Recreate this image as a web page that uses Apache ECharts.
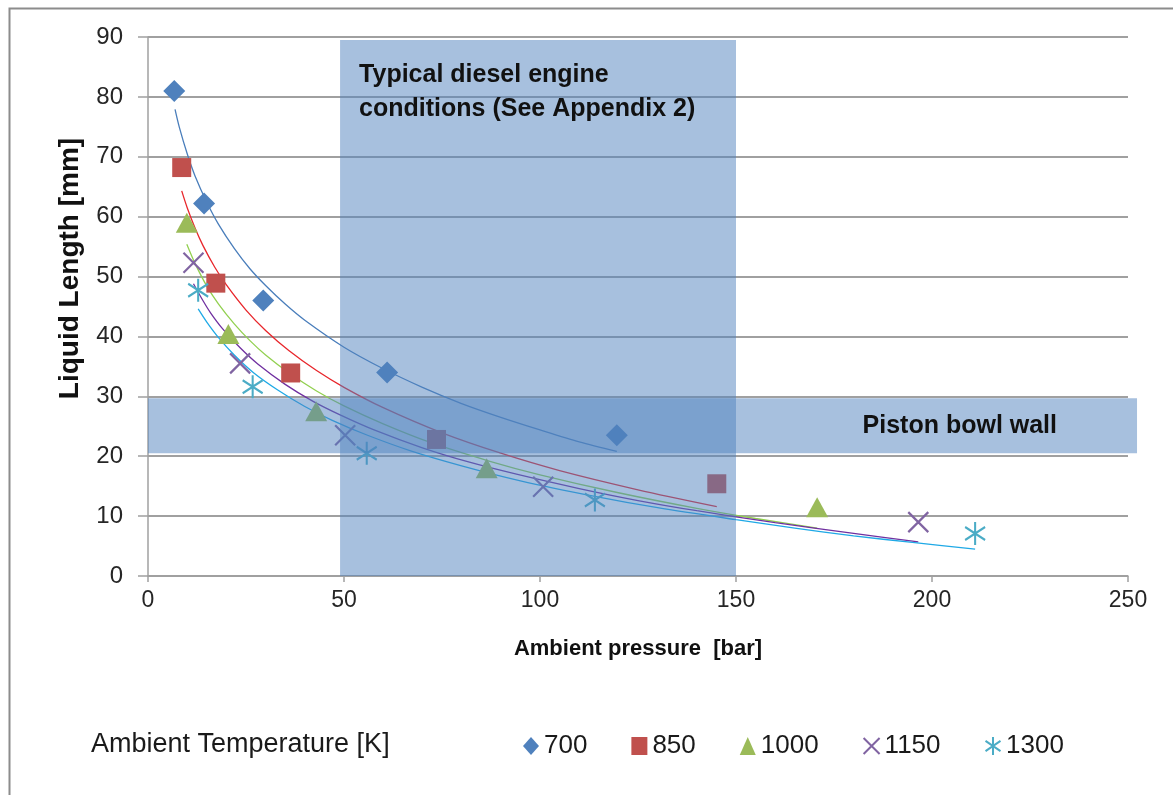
<!DOCTYPE html>
<html><head><meta charset="utf-8">
<script src="https://cdn.jsdelivr.net/npm/echarts@6/dist/echarts.min.js"></script>
<style>html,body{margin:0;padding:0;background:#fff}#c{width:1173px;height:795px}</style>
</head><body><div id="c"></div>
<script>
// ---- data ----
const xTicks = [0, 50, 100, 150, 200, 250];
const yTicks = [0, 10, 20, 30, 40, 50, 60, 70, 80, 90];
const seriesNames = ['700', '850', '1000', '1150', '1300'];

const p700  = [[6.7, 81.0], [14.3, 62.2], [29.4, 46.0], [61.0, 34.0], [119.6, 23.5]];
const p850  = [[8.6, 68.2], [17.3, 48.9], [36.4, 33.9], [73.6, 22.8], [145.1, 15.4]];
const p1000 = [[9.9, 59.0], [20.5, 40.4], [42.9, 27.5], [86.4, 18.0], [170.7, 11.5]];
const p1150 = [[11.6, 52.3], [23.5, 35.5], [50.3, 23.5], [100.8, 14.9], [196.5, 9.0]];
const p1300 = [[12.8, 47.7], [26.7, 31.6], [55.8, 20.5], [114.0, 12.7], [211.0, 7.1]];

// trend lines
const t700  = [[6.9, 77.9], [8, 74.9], [10, 70.5], [12, 66.8], [15, 62.4], [18, 58.7], [22, 54.7], [26, 51.3], [30, 48.5], [35, 45.4], [40, 42.7], [50, 38.2], [60, 34.6], [70, 31.5], [80, 28.8], [90, 26.5], [100, 24.4], [110, 22.4], [119.6, 20.8]];
const t850  = [[8.6, 64.3], [10, 61.5], [12, 58.1], [14, 55.2], [17, 51.6], [20, 48.6], [25, 44.4], [30, 41.0], [36, 37.6], [43, 34.3], [50, 31.5], [60, 28.1], [75, 23.9], [90, 20.5], [105, 17.6], [125, 14.4], [145.1, 11.6]];
const t1000 = [[9.9, 55.4], [12, 52.2], [15, 48.4], [18, 45.4], [22, 42.1], [26, 39.3], [30, 36.9], [36, 33.9], [43, 30.9], [50, 28.4], [60, 25.4], [72, 22.3], [87, 19.2], [100, 16.9], [120, 13.9], [140, 11.3], [155, 9.6], [170.7, 8.0]];
const t1150 = [[11.6, 48.8], [14, 46.0], [16, 43.9], [19, 41.3], [23.5, 38.1], [28, 35.4], [35, 32.0], [42, 29.2], [49, 26.9], [58, 24.3], [70, 21.4], [82, 19.0], [94, 17.0], [110, 14.6], [125, 12.6], [140, 10.9], [160, 8.9], [180, 7.1], [196.5, 5.7]];
const t1300 = [[12.8, 44.6], [15, 42.4], [18, 39.8], [22, 36.9], [27, 33.9], [33, 31.1], [40, 28.3], [47, 26.0], [56, 23.5], [67, 20.9], [80, 18.4], [95, 15.9], [114, 13.3], [130, 11.4], [150, 9.4], [165, 8.0], [180, 6.7], [195, 5.6], [211, 4.5]];

// shaded regions [x0, x1, y0, y1]
const bandDiesel = [49, 150, 0, 89.5];
const bandPiston = [0, 252.3, 20.5, 29.7];
const bandLabels = ['Typical diesel engine\nconditions (See Appendix 2)', 'Piston bowl wall'];

// ---- chart ----
const FONT = "'Liberation Sans', Arial, sans-serif";
const markerColors = ['#4f81bd', '#c0504d', '#9bbb59', '#8064a2', '#4bacc6'];
const lineColors = ['#4a7ebb', '#e8262b', '#92d050', '#7030a0', '#1fa9e6'];
const symbols = ['diamond', 'rect', 'triangle', 'path://M0,0L10,10M10,0L0,10', 'path://M5,0L5,12M0,2.6L10,9.4M10,2.6L0,9.4'];
const symbolSizes = [22, 19, [22, 20], [20, 20], [20, 23]];
const points = [p700, p850, p1000, p1150, p1300];
const trends = [t700, t850, t1000, t1150, t1300];

const series = [];
trends.forEach((t, i) => {
  series.push({
    name: 'trend' + seriesNames[i], type: 'line', data: t, showSymbol: false, smooth: 0.3,
    silent: true, z: 2,
    lineStyle: { color: lineColors[i], width: 1.3 }, itemStyle: { color: lineColors[i] }
  });
});
points.forEach((p, i) => {
  const stroked = i >= 3;
  series.push({
    name: seriesNames[i], type: 'scatter', data: p, symbol: symbols[i], symbolSize: symbolSizes[i], z: 3,
    itemStyle: stroked ? { color: 'rgba(0,0,0,0)', borderColor: markerColors[i], borderWidth: 2.2, opacity: 1 }
                       : { color: markerColors[i], opacity: 1 }
  });
});
series.push({
  type: 'custom', z: 10, silent: true, clip: false,
  data: [bandDiesel, bandPiston],
  encode: { x: [0, 1], y: [2, 3] },
  renderItem: function (params, api) {
    const a = api.coord([api.value(0), api.value(3)]);
    const b = api.coord([api.value(1), api.value(2)]);
    const children = [{
      type: 'rect', shape: { x: a[0], y: a[1], width: b[0] - a[0], height: b[1] - a[1] },
      style: { fill: 'rgba(79,129,189,0.5)' }
    }];
    if (params.dataIndex === 0) {
      children.push({ type: 'text', z2: 5, style: {
        text: bandLabels[0], x: a[0] + 19, y: a[1] + 18, align: 'left', verticalAlign: 'top',
        font: 'bold 25px ' + FONT, lineHeight: 34, fill: '#111111' } });
    } else {
      children.push({ type: 'text', z2: 5, style: {
        text: bandLabels[1], x: b[0] - 80, y: (a[1] + b[1]) / 2, align: 'right', verticalAlign: 'middle',
        font: 'bold 25px ' + FONT, fill: '#111111' } });
    }
    return { type: 'group', children: children };
  }
});

const chart = echarts.init(document.getElementById('c'), null, { renderer: 'canvas' });
chart.setOption({
  animation: false,
  backgroundColor: '#ffffff',
  textStyle: { fontFamily: FONT },
  graphic: [{ type: 'rect', left: 7, top: 6, z: -10, silent: true,
    shape: { width: 1190, height: 820 }, style: { fill: 'none', stroke: '#8c8c8c', lineWidth: 2 } }],
  title: { text: 'Ambient Temperature [K]', left: 86, top: 726,
    textStyle: { fontSize: 27, fontWeight: 'normal', color: '#1a1a1a', fontFamily: FONT } },
  legend: {
    data: seriesNames, left: 518, top: 728, itemGap: 44, itemWidth: 16, itemHeight: 18,
    textStyle: { fontSize: 26, color: '#1a1a1a', fontFamily: FONT }
  },
  grid: { left: 148, right: 45, top: 37, bottom: 219, containLabel: false },
  xAxis: {
    type: 'value', min: xTicks[0], max: xTicks[xTicks.length - 1], interval: xTicks[1] - xTicks[0],
    name: 'Ambient pressure  [bar]', nameLocation: 'middle', nameGap: 62,
    nameTextStyle: { fontSize: 22, fontWeight: 'bold', color: '#111', fontFamily: FONT },
    axisLine: { show: true, lineStyle: { color: '#a0a0a0', width: 1.5 } },
    axisTick: { show: true, length: 6, lineStyle: { color: '#a0a0a0', width: 1.5 } },
    axisLabel: { fontSize: 23, color: '#262626', margin: 13, fontFamily: FONT },
    splitLine: { show: false }
  },
  yAxis: {
    type: 'value', min: yTicks[0], max: yTicks[yTicks.length - 1], interval: yTicks[1] - yTicks[0],
    name: 'Liquid Length [mm]', nameLocation: 'middle', nameGap: 64, nameRotate: 90,
    nameTextStyle: { fontSize: 28, fontWeight: 'bold', color: '#111', fontFamily: FONT, padding: [0, 0, 0, 76] },
    axisLine: { show: true, lineStyle: { color: '#a0a0a0', width: 1.5 } },
    axisTick: { show: true, length: 10, lineStyle: { color: '#a0a0a0', width: 1.5 } },
    axisLabel: { fontSize: 24, color: '#262626', margin: 25, fontFamily: FONT },
    splitLine: { show: true, lineStyle: { color: '#a0a0a0', width: 1.8 } }
  },
  series: series
});
</script></body></html>
